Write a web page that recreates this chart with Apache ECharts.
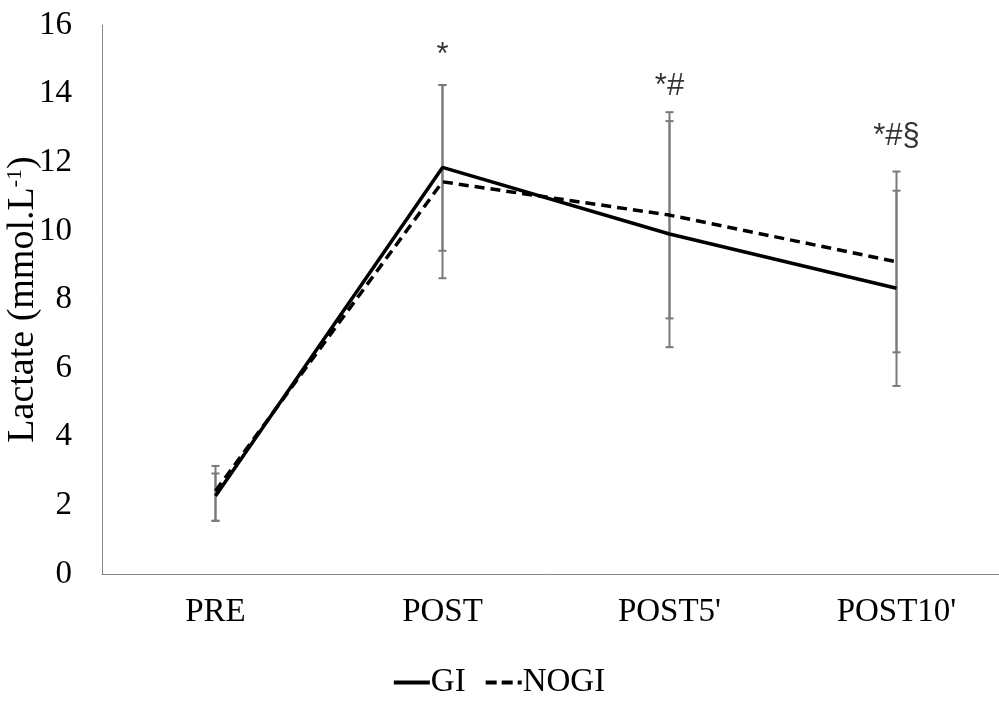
<!DOCTYPE html>
<html><head><meta charset="utf-8">
<script src="https://cdn.jsdelivr.net/npm/echarts@6/dist/echarts.min.js"></script>
<style>html,body{margin:0;padding:0;background:#fff}#c{width:999px;height:704px}</style>
</head><body><div id="c"></div>
<script>
const categories = ["PRE", "POST", "POST5'", "POST10'"];
const giValues = [2.27, 11.85, 9.91, 8.33];
const nogiValues = [2.42, 11.43, 10.46, 9.10];
const giLow = [1.55, 9.42, 6.61, 5.48];
const giHigh = [3.15, 14.25, 13.20, 11.17];
const nogiLow = [1.55, 8.62, 7.45, 6.46];
const nogiHigh = [2.93, 14.25, 13.46, 11.73];
const annotationText = ["", "*", "*#", "*#§"];
const annotationY = [0, 15.1, 14.2, 12.75];
const yTicks = {min: 0, max: 16, interval: 2};

const chart = echarts.init(document.getElementById('c'));
const serif = "Liberation Serif";
const errData = [];
categories.forEach((c, i) => {
  errData.push([i, giLow[i], giHigh[i]]);
  errData.push([i, nogiLow[i], nogiHigh[i]]);
});
function renderErr(params, api) {
  const x = api.value(0);
  const lo = api.coord([x, api.value(1)]);
  const hi = api.coord([x, api.value(2)]);
  const hw = 4;
  const st = {stroke: '#7a7a7a', lineWidth: 2};
  return {type: 'group', children: [
    {type: 'line', shape: {x1: lo[0], y1: lo[1], x2: hi[0], y2: hi[1]}, style: st},
    {type: 'line', shape: {x1: lo[0]-hw, y1: lo[1], x2: lo[0]+hw, y2: lo[1]}, style: st},
    {type: 'line', shape: {x1: hi[0]-hw, y1: hi[1], x2: hi[0]+hw, y2: hi[1]}, style: st}
  ]};
}
chart.setOption({
  animation: false,
  backgroundColor: '#fff',
  grid: {left: 102, top: 25, width: 908, bottom: 130, outerBoundsMode: 'none', containLabel: false},
  legend: {
    bottom: 0, left: 'center', itemWidth: 36, itemHeight: 4, itemGap: 20,
    data: [
      {name: 'GI', icon: 'path://M0,0H36V4H0Z'},
      {name: 'NOGI', icon: 'path://M0,0H11V4H0Z M16,0H27V4H16Z M32,0H36V4H32Z'}
    ],
    itemStyle: {color: '#000'},
    textStyle: {fontFamily: serif, fontSize: 33, color: '#000', padding: [0, 0, 0, -4]}
  },
  xAxis: {
    type: 'category', data: categories, boundaryGap: true,
    axisLine: {lineStyle: {color: '#868686', width: 1}},
    axisTick: {show: false},
    axisLabel: {fontFamily: serif, fontSize: 33, color: '#000', margin: 22}
  },
  yAxis: {
    type: 'value', min: yTicks.min, max: yTicks.max, interval: yTicks.interval,
    splitLine: {show: false},
    axisLine: {show: true, lineStyle: {color: '#868686', width: 1}},
    axisTick: {show: false},
    axisLabel: {fontFamily: serif, fontSize: 33, color: '#000', margin: 30},
    name: '{a|Lactate (mmol.L}{s|-1}{a|)}',
    nameLocation: 'middle', nameGap: 60, nameRotate: 90, nameMoveOverlap: false,
    nameTextStyle: {
      rich: {
        a: {fontFamily: serif, fontSize: 38, color: '#000'},
        s: {fontFamily: serif, fontSize: 22, color: '#000', verticalAlign: 'top', padding: [0, 0, 16, 0]}
      }
    }
  },
  series: [
    {type: 'custom', name: 'err', renderItem: renderErr, data: errData, z: 1, silent: true,
     encode: {x: 0, y: [1, 2]}},
    {type: 'line', name: 'GI', data: giValues, symbol: 'none', z: 3,
     lineStyle: {color: '#000', width: 3.5, type: 'solid'}, itemStyle: {color: '#000'}},
    {type: 'line', name: 'NOGI', data: nogiValues, symbol: 'none', z: 3,
     lineStyle: {color: '#000', width: 3.5, type: [10, 6]}, itemStyle: {color: '#000'}},
    {type: 'scatter', name: 'ann', symbolSize: 0, silent: true,
     data: categories.map((c, i) => ({value: [i, annotationY[i]], label: {show: annotationText[i] !== '', formatter: annotationText[i]}})),
     label: {position: 'inside', fontFamily: 'Liberation Sans', fontSize: 31, color: '#000'}}
  ]
});
</script></body></html>
